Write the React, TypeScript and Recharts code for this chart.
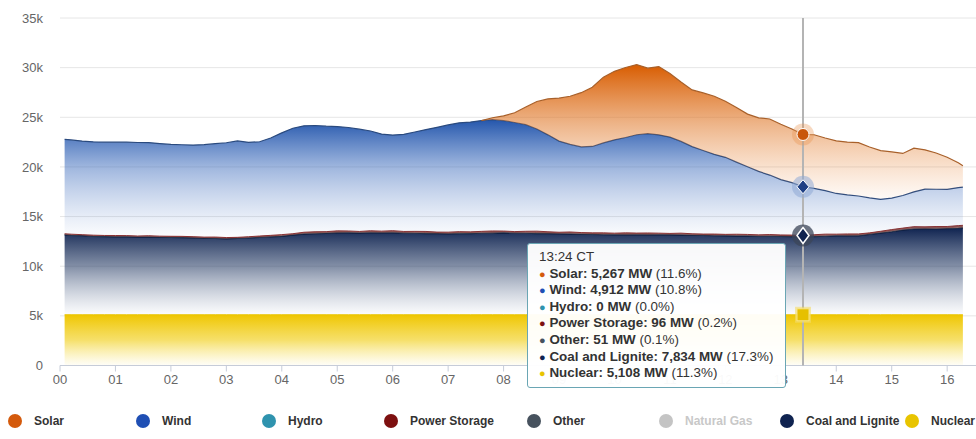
import React from 'react';
import { AreaChart, Area, XAxis, YAxis, CartesianGrid, Tooltip, Legend } from 'recharts';

// time of each sample, minutes after midnight (CT)
const minutes = [
  5, 12, 24, 36, 48, 60, 72, 84, 96, 108, 120, 132,
  144, 156, 168, 180, 192, 204, 216, 228, 240, 252, 264, 276,
  288, 300, 312, 324, 336, 348, 360, 372, 384, 396, 408, 420,
  432, 444, 456, 468, 480, 492, 504, 516, 528, 540, 552, 564,
  576, 588, 600, 612, 624, 636, 648, 660, 672, 684, 696, 708,
  720, 732, 744, 756, 768, 780, 792, 804, 816, 828, 840, 852,
  864, 876, 888, 900, 912, 924, 936, 948, 960, 972, 977,
];

// MW
const nuclear = [
  5112, 5110, 5111, 5109, 5112, 5110, 5108, 5111, 5110, 5109, 5112, 5110,
  5111, 5109, 5110, 5112, 5108, 5110, 5111, 5109, 5110, 5112, 5110, 5109,
  5111, 5110, 5108, 5110, 5112, 5109, 5110, 5111, 5109, 5110, 5108, 5110,
  5111, 5109, 5110, 5112, 5110, 5108, 5109, 5111, 5110, 5109, 5110, 5108,
  5110, 5109, 5111, 5110, 5108, 5109, 5110, 5111, 5109, 5108, 5110, 5109,
  5108, 5110, 5109, 5108, 5110, 5109, 5107, 5108, 5109, 5110, 5108, 5109,
  5110, 5108, 5109, 5110, 5108, 5107, 5109, 5108, 5110, 5108, 5109,
];

const coal = [
  8045, 7995, 7960, 7890, 7870, 7840, 7850, 7820, 7825, 7800, 7790, 7770,
  7735, 7700, 7680, 7640, 7690, 7730, 7790, 7840, 7900, 8020, 8130, 8160,
  8200, 8240, 8250, 8230, 8260, 8240, 8250, 8220, 8210, 8180, 8170, 8140,
  8170, 8180, 8210, 8220, 8250, 8220, 8210, 8180, 8170, 8140, 8130, 8100,
  8090, 8060, 8050, 8040, 8050, 8040, 8050, 8040, 8030, 8000, 7990, 7960,
  7950, 7930, 7930, 7910, 7910, 7890, 7870, 7834, 7880, 7910, 7950, 7940,
  7950, 8090, 8230, 8360, 8530, 8640, 8650, 8640, 8670, 8710, 8750,
];

const other = [
  50, 52, 51, 49, 51, 53, 50, 52, 51, 50, 52, 51,
  49, 51, 52, 50, 51, 53, 52, 50, 51, 49, 51, 52,
  50, 51, 52, 51, 50, 52, 51, 50, 51, 52, 50, 51,
  52, 51, 50, 51, 52, 50, 51, 49, 51, 52, 50, 51,
  52, 51, 50, 51, 52, 51, 50, 51, 52, 50, 51, 52,
  50, 51, 52, 50, 51, 52, 50, 51, 52, 51, 50, 51,
  52, 50, 51, 52, 51, 50, 51, 52, 50, 51, 52,
];

const storage = [
  60, 70, 55, 80, 65, 90, 75, 60, 85, 70, 60, 75,
  80, 70, 95, 85, 60, 75, 90, 110, 120, 95, 130, 150,
  120, 160, 140, 110, 150, 130, 170, 120, 140, 160, 110, 130,
  150, 120, 140, 170, 130, 110, 150, 190, 140, 120, 160, 130,
  110, 140, 120, 160, 130, 150, 120, 100, 140, 110, 90, 120,
  100, 130, 110, 90, 120, 100, 110, 96, 130, 160, 120, 150,
  140, 110, 130, 170, 150, 190, 160, 200, 170, 220, 210,
];

const hydro = [
  0, 0, 0, 0, 0, 0, 0, 0, 0, 0, 0, 0,
  0, 0, 0, 0, 0, 0, 0, 0, 0, 0, 0, 0,
  0, 0, 0, 0, 0, 0, 0, 0, 0, 0, 0, 0,
  0, 0, 0, 0, 0, 0, 0, 0, 0, 0, 0, 0,
  0, 0, 0, 0, 0, 0, 0, 0, 0, 0, 0, 0,
  0, 0, 0, 0, 0, 0, 0, 0, 0, 0, 0, 0,
  0, 0, 0, 0, 0, 0, 0, 0, 0, 0, 0,
];

const wind = [
  9500, 9490, 9430, 9400, 9400, 9400, 9410, 9420, 9380, 9320, 9250, 9230,
  9230, 9310, 9410, 9550, 9710, 9510, 9490, 9800, 10250, 10620, 10720, 10700,
  10620, 10500, 10420, 10300, 10050, 9780, 9630, 9780, 10010, 10260, 10550, 10800,
  10960, 11060, 11160, 11210, 11120, 10990, 10740, 10290, 9760, 9180, 8820, 8630,
  8700, 9060, 9400, 9600, 9900, 10000, 9900, 9700, 9240, 8780, 8410, 8030,
  7760, 7260, 6820, 6390, 5990, 5570, 5280, 4912, 4670, 4390, 4100, 3930,
  3820, 3520, 3220, 3160, 3280, 3500, 3800, 3750, 3730, 3830, 3850,
];

const solar = [
  null, null, null, null, null, null, null, null, null, null, null, null,
  null, null, null, null, null, null, null, null, null, null, null, null,
  null, null, null, null, null, null, null, null, null, null, null, null,
  null, null, 0, 190, 480, 980, 1780, 2770, 3620, 4320, 4850, 5460,
  5960, 6620, 6900, 7050, 7070, 6600, 6880, 6400, 5980, 5710, 5800, 5850,
  5640, 5500, 5300, 5390, 5650, 5580, 5400, 5267, 5400, 5290, 5300, 5320,
  5380, 5130, 4900, 4670, 4240, 4400, 3950, 3650, 3250, 2500, 2150,
];

// total generation (incl. hidden Natural Gas) at the hovered time
const totalAtHover = 45300;
const hoverIndex = 67;

const hourTicks = [0, 1, 2, 3, 4, 5, 6, 7, 8, 9, 10, 11, 12, 13, 14, 15, 16];
const mwTicks = [0, 5000, 10000, 15000, 20000, 25000, 30000, 35000];

const legendNames = ['Solar', 'Wind', 'Hydro', 'Power Storage', 'Other', 'Natural Gas', 'Coal and Lignite', 'Nuclear'];
const tooltipKeys = ['solar', 'wind', 'hydro', 'storage', 'other', 'coal', 'nuclear'];
const tooltipNames = ['Solar', 'Wind', 'Hydro', 'Power Storage', 'Other', 'Coal and Lignite', 'Nuclear'];

// ---- styling ----
const FONT = '"Liberation Sans", Arial, Helvetica, sans-serif';
const LEGEND_COLORS = ['#d45a0c', '#1f4fb4', '#2f93ae', '#7d1010', '#47525e', '#c4c4c4', '#0f2350', '#e8c400'];
const LEGEND_LEFT = [8, 136, 262, 384, 527, 659, 780, 905];
const TIP_COLORS: Record<string, string> = {
  solar: '#d45a0c', wind: '#1f4fb4', hydro: '#2f93ae', storage: '#7d1010',
  other: '#47525e', coal: '#0f2350', nuclear: '#e8c400',
};

const data = minutes.map((m, i) => ({
  h: m / 60,
  m,
  nuclear: nuclear[i],
  coal: coal[i],
  other: other[i],
  storage: storage[i],
  hydro: hydro[i],
  wind: wind[i],
  solar: solar[i],
}));

const fmt = (v: number) => v.toLocaleString('en-US');

const TipBox = (props: any) => {
  const { active, payload } = props;
  if (!active || !payload || !payload.length) return null;
  const p = payload[0].payload;
  const hh = String(Math.floor(p.m / 60)).padStart(2, '0');
  const mm = String(p.m % 60).padStart(2, '0');
  return (
    <div
      style={{
        width: 259,
        height: 145,
        boxSizing: 'border-box',
        background: 'rgba(255,255,255,0.96)',
        border: '1.5px solid #6aa6b4',
        borderRadius: 3,
        padding: '5px 0 0 11px',
        fontFamily: FONT,
        fontSize: 13.4,
        color: '#333',
        lineHeight: '16.6px',
        whiteSpace: 'nowrap',
      }}
    >
      <div style={{ fontWeight: 400 }}>{hh}:{mm} CT</div>
      {tooltipKeys.map((k, i) => {
        const v = (p[k] ?? 0) as number;
        return (
          <div key={k}>
            <span style={{ color: TIP_COLORS[k], fontSize: 11 }}>●</span>{' '}
            <b>{tooltipNames[i]}: {fmt(v)} MW</b>{' '}
            <span>({((v / totalAtHover) * 100).toFixed(1)}%)</span>
          </div>
        );
      })}
    </div>
  );
};

const LegendBox = () => (
  <div style={{ position: 'relative', width: 976, height: 30 }}>
    {legendNames.map((n, i) => (
      <div
        key={n}
        style={{
          position: 'absolute',
          left: LEGEND_LEFT[i],
          top: 8,
          display: 'flex',
          alignItems: 'center',
          height: 14,
          whiteSpace: 'nowrap',
        }}
      >
        <span
          style={{
            width: 14,
            height: 14,
            borderRadius: 7,
            background: LEGEND_COLORS[i],
            display: 'inline-block',
            flex: 'none',
          }}
        />
        <span
          style={{
            marginLeft: 12,
            fontSize: 12,
            fontWeight: 700,
            fontFamily: FONT,
            color: n === 'Natural Gas' ? '#c8c8c8' : '#333',
          }}
        >
          {n}
        </span>
      </div>
    ))}
  </div>
);

const Halo = ({ cx, cy, fill, op }: any) => (
  <circle cx={cx} cy={cy} r={11} fill={fill} fillOpacity={op} />
);

const SolarDot = (p: any) => (
  <g>
    <Halo cx={p.cx} cy={p.cy} fill="#e8914d" op={0.35} />
    <circle cx={p.cx} cy={p.cy} r={6} fill="#c8560c" stroke="#fff" strokeWidth={1} />
  </g>
);
const WindDot = (p: any) => (
  <g>
    <Halo cx={p.cx} cy={p.cy} fill="#8fa9d6" op={0.55} />
    <path
      d={`M${p.cx},${p.cy - 7} L${p.cx + 6},${p.cy} L${p.cx},${p.cy + 7} L${p.cx - 6},${p.cy} Z`}
      fill="#1f3f84"
      stroke="#fff"
      strokeWidth={1}
    />
  </g>
);
const CoalDot = (p: any) => (
  <g>
    <Halo cx={p.cx} cy={p.cy} fill="#3c4658" op={0.75} />
    <path
      d={`M${p.cx},${p.cy - 8} L${p.cx + 6},${p.cy} L${p.cx},${p.cy + 8} L${p.cx - 6},${p.cy} Z`}
      fill="#0f2350"
      stroke="#fff"
      strokeWidth={1.5}
    />
  </g>
);
const NuclearDot = (p: any) => (
  <g>
    <rect x={p.cx - 8} y={p.cy - 8} width={16} height={16} fill="#f3dc6a" fillOpacity={0.6} />
    <rect x={p.cx - 6} y={p.cy - 6} width={12} height={12} fill="#e6c000" stroke="#f7e48a" strokeWidth={1} />
  </g>
);

export default function App() {
  return (
    <div style={{ position: 'absolute', left: 0, top: 0, width: 976, height: 439, background: '#fff' }}>
      <AreaChart
        width={976}
        height={439}
        data={data}
        margin={{ top: 18, right: 0, bottom: 3.5, left: 0 }}
      >
        <defs>
          <linearGradient id="gSolar" x1="0" y1="0" x2="0" y2="1">
            <stop offset="0%" stopColor="#d85c00" stopOpacity={1} />
            <stop offset="45%" stopColor="#e07a2c" stopOpacity={0.55} />
            <stop offset="100%" stopColor="#f0a060" stopOpacity={0.05} />
          </linearGradient>
          <linearGradient id="gWind" x1="0" y1="0" x2="0" y2="1">
            <stop offset="0%" stopColor="#2456ac" stopOpacity={1} />
            <stop offset="40%" stopColor="#3d6cbc" stopOpacity={0.5} />
            <stop offset="100%" stopColor="#7b9bd4" stopOpacity={0.02} />
          </linearGradient>
          <linearGradient id="gCoal" x1="0" y1="0" x2="0" y2="1">
            <stop offset="0%" stopColor="#0f2350" stopOpacity={1} />
            <stop offset="45%" stopColor="#33476e" stopOpacity={0.6} />
            <stop offset="100%" stopColor="#8090ad" stopOpacity={0.03} />
          </linearGradient>
          <linearGradient id="gNuc" x1="0" y1="0" x2="0" y2="1">
            <stop offset="0%" stopColor="#efc600" stopOpacity={1} />
            <stop offset="50%" stopColor="#f2d22a" stopOpacity={0.7} />
            <stop offset="100%" stopColor="#f7e26a" stopOpacity={0.05} />
          </linearGradient>
        </defs>
        <CartesianGrid vertical={false} stroke="#e6e6e6" />
        <XAxis
          dataKey="h"
          type="number"
          domain={[0, 16.52]}
          ticks={hourTicks}
          interval={0}
          tickFormatter={(v: number) => String(v).padStart(2, '0')}
          height={40}
          axisLine={{ stroke: '#c6ccd8' }}
          tickLine={{ stroke: '#c6ccd8' }}
          tickSize={6}
          tickMargin={3}
          tick={{ fill: '#666', fontSize: 13, fontFamily: FONT }}
        />
        <YAxis
          width={60}
          domain={[0, 35000]}
          ticks={mwTicks}
          interval={0}
          axisLine={false}
          tickLine={false}
          tickMargin={11}
          tickFormatter={(v: number) => (v === 0 ? '0' : `${v / 1000}k`)}
          tick={{ fill: '#666', fontSize: 13, fontFamily: FONT }}
        />
        <Area type="linear" dataKey="nuclear" name="Nuclear" stackId="s" stroke="#ecc600" strokeWidth={1} fill="url(#gNuc)" fillOpacity={1} isAnimationActive={false} activeDot={NuclearDot} />
        <Area type="linear" dataKey="coal" name="Coal and Lignite" stackId="s" stroke="#0d1c3e" strokeWidth={1.2} fill="url(#gCoal)" fillOpacity={1} isAnimationActive={false} activeDot={false} />
        <Area type="linear" dataKey="other" name="Other" stackId="s" stroke="none" fill="#47525e" fillOpacity={1} isAnimationActive={false} activeDot={false} />
        <Area type="linear" dataKey="storage" name="Power Storage" stackId="s" stroke="#8a3030" strokeWidth={1} fill="#6a2a2a" fillOpacity={0.8} isAnimationActive={false} activeDot={false} />
        <Area type="linear" dataKey="hydro" name="Hydro" stackId="s" stroke="none" fill="none" isAnimationActive={false} activeDot={CoalDot} />
        <Area type="linear" dataKey="wind" name="Wind" stackId="s" stroke="#2a4a7e" strokeWidth={1.2} fill="url(#gWind)" fillOpacity={1} isAnimationActive={false} activeDot={WindDot} />
        <Area type="linear" dataKey="solar" name="Solar" stackId="s" stroke="#a8602a" strokeWidth={1.2} fill="url(#gSolar)" fillOpacity={1} isAnimationActive={false} activeDot={SolarDot} />
        <Tooltip
          active
          defaultIndex={hoverIndex}
          isAnimationActive={false}
          position={{ x: 527, y: 243 }}
          cursor={{ stroke: '#b4b4b4', strokeWidth: 2 }}
          content={<TipBox />}
          allowEscapeViewBox={{ x: true, y: true }}
          wrapperStyle={{ zIndex: 10 }}
        />
        <Legend verticalAlign="bottom" content={<LegendBox />} />
      </AreaChart>
    </div>
  );
}
